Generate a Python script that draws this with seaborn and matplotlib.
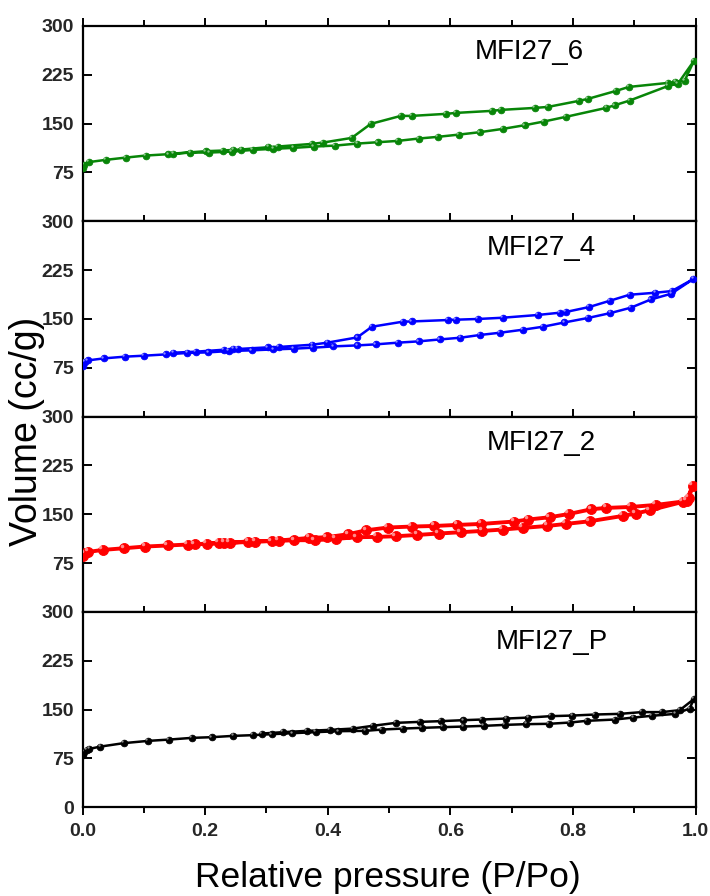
import numpy as np
import pandas as pd
import matplotlib
matplotlib.use("Agg")
import matplotlib.pyplot as plt
import matplotlib.transforms as mtransforms
from matplotlib.ticker import MultipleLocator, FixedLocator
import seaborn as sns

# ---- N2 isotherms: relative pressure (P/Po) and adsorbed volume (cc/g) ----
# MFI27_6
p6_ads = [0.000, 0.002, 0.010, 0.038, 0.071, 0.103, 0.140, 0.176, 0.207, 0.244, 0.278,
          0.311, 0.344, 0.377, 0.412, 0.448, 0.482, 0.514, 0.548, 0.579, 0.614, 0.648,
          0.685, 0.721, 0.752, 0.788, 0.854, 0.868, 0.892, 0.955, 0.971, 0.997]
v6_ads = [81.6, 86.7, 90.9, 94.4, 97.9, 101.0, 103.1, 105.6, 105.6, 107.1, 109.7,
          111.3, 112.8, 114.8, 116.3, 119.4, 121.5, 123.5, 127.1, 129.7, 133.2, 136.9,
          141.9, 147.6, 153.2, 160.4, 174.2, 178.3, 185.4, 207.9, 211.5, 246.3]
p6_des = [0.982, 0.967, 0.954, 0.891, 0.870, 0.824, 0.809, 0.759, 0.738, 0.682, 0.667,
          0.609, 0.592, 0.537, 0.519, 0.470, 0.439, 0.392, 0.374, 0.318, 0.303, 0.259,
          0.246, 0.229, 0.201, 0.148]
v6_des = [216.1, 214.1, 212.5, 206.4, 200.3, 188.0, 184.9, 175.7, 174.2, 171.1, 169.6,
          166.5, 165.0, 161.9, 161.9, 149.6, 128.1, 120.9, 118.9, 114.8, 113.9, 110.2,
          109.7, 108.7, 107.7, 104.0]

# MFI27_4
p4_ads = [0.000, 0.004, 0.009, 0.035, 0.069, 0.100, 0.136, 0.171, 0.205, 0.239, 0.276,
          0.311, 0.345, 0.376, 0.409, 0.448, 0.478, 0.514, 0.548, 0.583, 0.616, 0.648,
          0.681, 0.718, 0.751, 0.786, 0.824, 0.861, 0.894, 0.927, 0.960, 0.996]
v4_ads = [77.2, 83.9, 86.4, 89.5, 92.1, 93.6, 95.6, 97.8, 98.7, 100.8, 101.8,
          103.3, 104.4, 105.9, 107.9, 109.4, 111.0, 113.6, 115.6, 118.6, 121.2, 125.4,
          128.9, 133.5, 138.1, 144.7, 151.5, 159.1, 167.3, 180.0, 188.8, 211.3]
p4_des = [0.961, 0.934, 0.892, 0.860, 0.826, 0.788, 0.778, 0.742, 0.685, 0.645, 0.609,
          0.596, 0.537, 0.522, 0.472, 0.448, 0.399, 0.375, 0.320, 0.302, 0.253, 0.246,
          0.231, 0.185, 0.148]
v4_des = [192.9, 190.3, 187.2, 178.0, 168.3, 160.7, 159.6, 156.1, 151.9, 150.0, 148.9,
          148.4, 146.2, 145.8, 138.1, 121.7, 113.6, 110.5, 107.0, 106.4, 103.9, 103.9,
          102.8, 99.8, 98.2]

# MFI27_2
p2_ads = [0.000, 0.004, 0.009, 0.033, 0.068, 0.102, 0.139, 0.172, 0.203, 0.231, 0.270,
          0.309, 0.345, 0.379, 0.413, 0.447, 0.480, 0.511, 0.546, 0.581, 0.617, 0.652,
          0.685, 0.718, 0.758, 0.788, 0.827, 0.881, 0.902, 0.925, 0.985, 0.995]
v2_ads = [86.1, 90.2, 92.2, 95.3, 97.9, 100.5, 102.1, 103.6, 104.5, 106.0, 108.2,
          108.7, 110.2, 110.2, 112.2, 114.8, 115.3, 116.3, 118.3, 120.5, 122.5, 124.5,
          126.6, 129.1, 132.1, 135.2, 139.3, 147.5, 151.2, 156.2, 170.5, 194.1]
p2_des = [0.989, 0.979, 0.935, 0.894, 0.854, 0.830, 0.793, 0.762, 0.727, 0.704, 0.650,
          0.611, 0.574, 0.537, 0.498, 0.463, 0.433, 0.398, 0.370, 0.320, 0.282, 0.240,
          0.222, 0.183]
v2_des = [175.7, 169.6, 164.4, 161.3, 159.8, 157.8, 150.5, 145.5, 142.0, 138.9, 135.2,
          133.7, 132.1, 131.2, 129.7, 125.5, 119.4, 114.8, 113.7, 109.7, 108.2, 106.0,
          106.0, 104.0]

# MFI27_P
pP_ads = [0.000, 0.002, 0.007, 0.011, 0.029, 0.067, 0.107, 0.141, 0.178, 0.211, 0.246,
          0.278, 0.309, 0.342, 0.380, 0.417, 0.461, 0.488, 0.522, 0.553, 0.588, 0.621,
          0.655, 0.689, 0.724, 0.760, 0.795, 0.822, 0.868, 0.898, 0.928, 0.967, 0.990, 0.997]
vP_ads = [80.5, 85.5, 88.2, 89.7, 93.2, 98.5, 102.0, 104.0, 106.6, 107.7, 109.7,
          110.8, 112.3, 113.8, 115.4, 116.9, 117.4, 119.4, 120.9, 122.0, 123.1, 124.0,
          125.1, 126.6, 127.7, 128.2, 130.2, 132.8, 134.8, 137.8, 140.5, 143.5, 151.7, 166.2]
pP_des = [0.974, 0.945, 0.912, 0.876, 0.836, 0.799, 0.764, 0.727, 0.691, 0.651, 0.621,
          0.584, 0.550, 0.511, 0.473, 0.441, 0.403, 0.366, 0.327, 0.292]
vP_des = [149.2, 146.2, 146.2, 143.5, 142.5, 140.9, 140.0, 137.8, 136.3, 134.8, 133.8,
          132.3, 131.2, 129.7, 125.1, 120.9, 118.9, 117.4, 115.4, 113.2]

samples = ["MFI27_6", "MFI27_4", "MFI27_2", "MFI27_P"]
colors = ["#088508", "#0000ff", "#ff0000", "#000000"]
y_ticks = [0, 75, 150, 225, 300]
x_ticks = [0.0, 0.2, 0.4, 0.6, 0.8, 1.0]

series = [
    (p6_ads, v6_ads, p6_des, v6_des),
    (p4_ads, v4_ads, p4_des, v4_des),
    (p2_ads, v2_ads, p2_des, v2_des),
    (pP_ads, vP_ads, pP_des, vP_des),
]

# per-panel line / marker styling
line_w = [1.8, 1.8, 2.8, 1.8]
mark_s = [4.8, 4.8, 7.2, 4.8]
label_pos = [(0.728, 0.867), (0.749, 0.864), (0.749, 0.865), (0.766, 0.848)]

frames = []
for name, (pa, va, pd_, vd) in zip(samples, series):
    loop_p = list(pa) + list(pd_)
    loop_v = list(va) + list(vd)
    frames.append(pd.DataFrame({"sample": name, "P/Po": loop_p, "Volume": loop_v,
                                "order": np.arange(len(loop_p))}))
data = pd.concat(frames, ignore_index=True)

sns.set_theme(style="white")
plt.rcParams["font.family"] = ["Liberation Sans", "DejaVu Sans"]
plt.rcParams["axes.linewidth"] = 1.6

fig = plt.figure(figsize=(7.1, 8.96), dpi=100)
gs = fig.add_gridspec(4, 1, left=0.1162, right=0.9799, top=0.9710, bottom=0.0990, hspace=0)

for i, name in enumerate(samples):
    ax = fig.add_subplot(gs[i])
    d = data[data["sample"] == name].sort_values("order")
    sns.lineplot(data=d, x="P/Po", y="Volume", sort=False, estimator=None,
                 color=colors[i], lw=line_w[i], marker="o", markersize=mark_s[i],
                 markeredgecolor=colors[i], markeredgewidth=0.6, ax=ax, zorder=3)
    # small glossy highlight on each marker
    shine = mtransforms.offset_copy(ax.transData, fig=fig, x=-0.25 * mark_s[i],
                                    y=0.25 * mark_s[i], units="points")
    ax.plot(d["P/Po"], d["Volume"], "o", ms=mark_s[i] * 0.35, color="white",
            alpha=0.55, mec="none", transform=shine, zorder=4)

    ax.set_xlim(0, 1.0)
    ax.set_ylim(0, 300)
    ax.set_xlabel("")
    ax.set_ylabel("")
    for s in ax.spines.values():
        s.set_color("black")
        s.set_linewidth(1.6)

    ax.xaxis.set_major_locator(FixedLocator(x_ticks))
    ax.xaxis.set_minor_locator(MultipleLocator(0.1))
    ax.yaxis.set_major_locator(FixedLocator(y_ticks))
    ax.tick_params(axis="x", which="major", direction="out", length=6, width=1.4,
                   top=True, bottom=True, color="black")
    ax.tick_params(axis="x", which="minor", direction="out", length=4, width=1.4,
                   top=True, bottom=True, color="black")
    ax.tick_params(axis="y", which="major", direction="in", length=6.5, width=1.4,
                   left=True, right=True, pad=6, color="black")

    if i < 3:
        ax.set_xticklabels([])
        ax.set_yticklabels(["", "75", "150", "225", "300"])
    else:
        ax.set_xticklabels(["0.0", "0.2", "0.4", "0.6", "0.8", "1.0"])
        ax.set_yticklabels(["0", "75", "150", "225", "300"])
    for lab in ax.get_xticklabels() + ax.get_yticklabels():
        lab.set_fontsize(14)
        lab.set_fontweight("bold")
    ax.tick_params(axis="x", pad=5)

    ax.text(label_pos[i][0], label_pos[i][1], name, transform=ax.transAxes,
            ha="center", va="center", fontsize=20, color="black")

fig.text(0.0387, 0.518, "Volume (cc/g)", rotation=90, ha="center", va="center",
         fontsize=27, color="black")
fig.text(0.547, 0.0100, "Relative pressure (P/Po)", ha="center", va="baseline",
         fontsize=25.5, color="black")

fig.savefig("out.png", dpi=100)
